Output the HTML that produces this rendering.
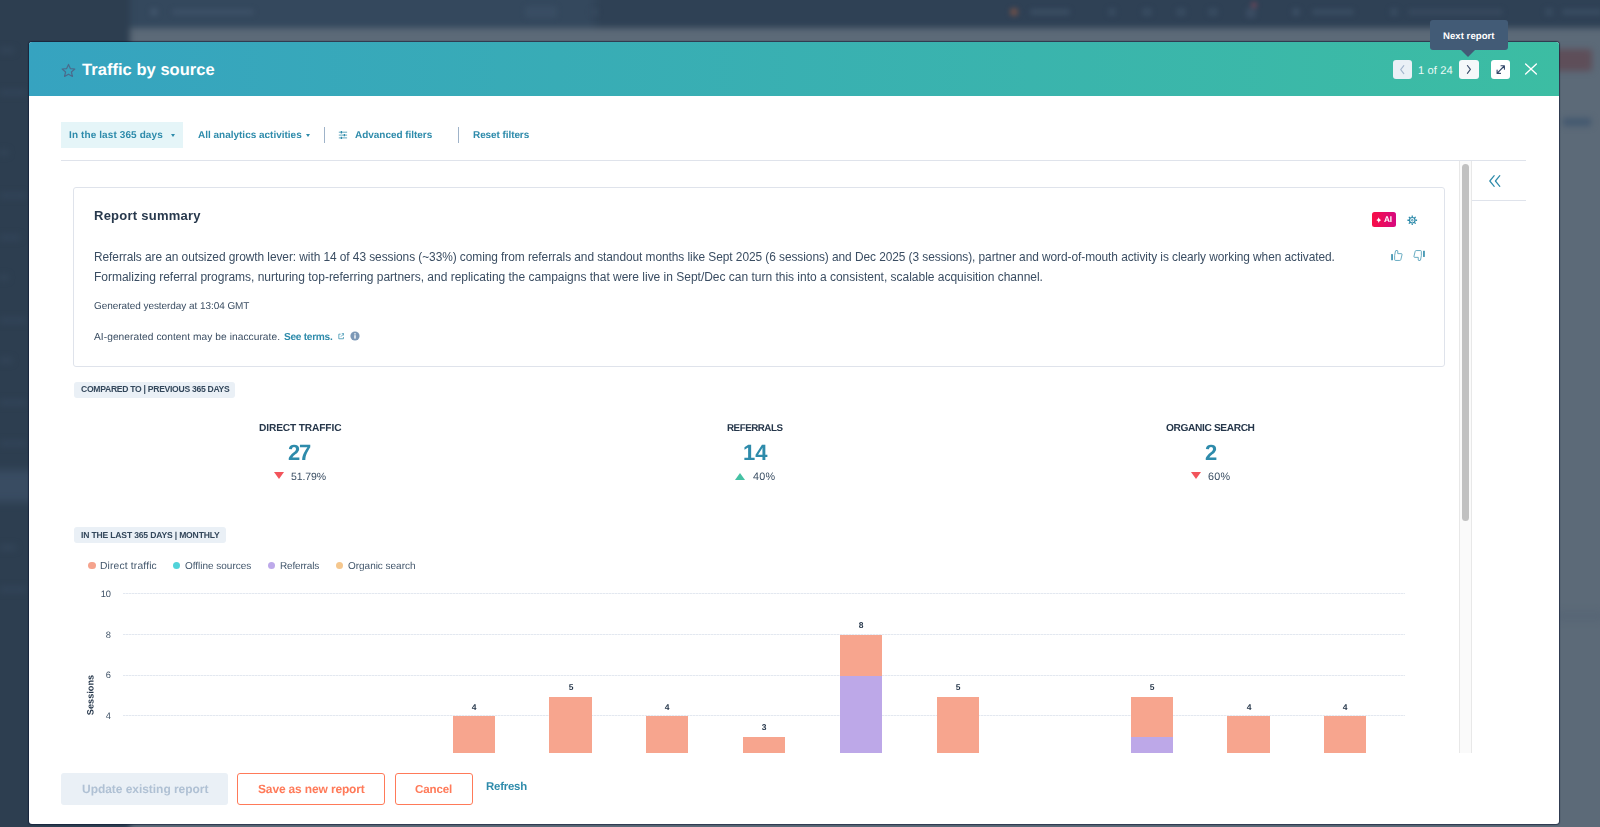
<!DOCTYPE html>
<html>
<head>
<meta charset="utf-8">
<title>Traffic by source</title>
<style>
*{box-sizing:border-box;margin:0;padding:0}
html,body{width:1600px;height:827px;overflow:hidden}
body{font-family:"Liberation Sans",sans-serif;background:#5c6a78;position:relative;color:#33475b}
.abs{position:absolute}
.t{position:absolute;white-space:nowrap;line-height:1;transform:skewX(0.03deg);transform-origin:0 0}
/* blurred page behind */
#bg{position:absolute;left:0;top:0;width:1600px;height:827px;overflow:hidden;background:#5c6a78}
#bg .nav{position:absolute;left:-10px;top:-10px;width:1620px;height:38px;background:linear-gradient(90deg,#34485d 0,#34485d 600px,#2f4155 610px,#2f4155 100%);filter:blur(3px)}
#bg .side{position:absolute;left:-10px;top:-10px;width:140px;height:850px;background:#2d3e50;filter:blur(3px)}
#bg .redbtn{position:absolute;left:1548px;top:49px;width:44px;height:22px;background:#5e4e59;filter:blur(3px);border-radius:3px}
/* modal */
#modal{position:absolute;left:29px;top:42px;width:1530px;height:782.4px;background:#fff;border-radius:3px;overflow:hidden;box-shadow:0 0 1px 1px rgba(12,22,48,.6)}
#hdr{position:absolute;left:0;top:0;width:1530px;height:54px;background:linear-gradient(90deg,#36a3c0 0%,#3cbda3 100%)}
.nbtn{position:absolute;top:18px;width:19px;height:19px;border-radius:3px;background:#fff}
.link{color:#2e8bab;font-weight:bold}
.chip{position:absolute;background:#eaf0f6;border-radius:3px;height:15.5px}
.kl{font-weight:bold;color:#25364a;font-size:9.5px;letter-spacing:.5px}
.kv{font-weight:bold;color:#2e8bab;font-size:22px}
.kp{font-size:11px;color:#3b4f64}
.grid{position:absolute;width:1282px;height:1px;background:repeating-linear-gradient(90deg,#e3e8f0 0,#e3e8f0 2px,#f1f4f8 2px,#f1f4f8 3px)}
.yl{font-size:9.3px;color:#3e5166;text-align:right;width:20px}
.bar{position:absolute;width:42.2px}
.dl{font-size:8.5px;font-weight:bold;color:#25364a;width:20px;text-align:center}
.lg{font-size:10px;color:#42566b}
.dot{position:absolute;width:7.4px;height:7.4px;border-radius:50%;top:519px}
.btn{position:absolute;top:731px;height:31.5px;border-radius:3px;font-size:12px;font-weight:bold}
</style>
</head>
<body>
<div id="bg"><div class="nav"></div><div class="side"></div><div class="abs" style="left:-10px;top:470px;width:45px;height:32px;background:#394c62;filter:blur(4px)"></div><div class="abs" style="left:0;top:0;width:1600px;height:30px;filter:blur(2.5px)"><div class="abs" style="left:150px;top:8px;width:8px;height:8px;background:#3f5369;border-radius:3px"></div><div class="abs" style="left:172px;top:9px;width:82px;height:6px;background:#3c5066;border-radius:3px"></div><div class="abs" style="left:525px;top:6px;width:32px;height:12px;background:#394d63;border-radius:3px"></div><div class="abs" style="left:590px;top:9px;width:8px;height:6px;background:#36495e;border-radius:3px"></div><div class="abs" style="left:1010px;top:8px;width:8px;height:8px;background:#6a4f4a;border-radius:3px"></div><div class="abs" style="left:1030px;top:9px;width:40px;height:6px;background:#3a4d62;border-radius:3px"></div><div class="abs" style="left:1108px;top:8px;width:8px;height:8px;background:#384b60;border-radius:3px"></div><div class="abs" style="left:1142px;top:8px;width:10px;height:8px;background:#384b60;border-radius:3px"></div><div class="abs" style="left:1176px;top:8px;width:10px;height:8px;background:#384b60;border-radius:3px"></div><div class="abs" style="left:1208px;top:8px;width:10px;height:8px;background:#384b60;border-radius:3px"></div><div class="abs" style="left:1246px;top:8px;width:10px;height:10px;background:#3a4c62;border-radius:3px"></div><div class="abs" style="left:1251px;top:2px;width:6px;height:6px;background:#6b4659;border-radius:3px"></div><div class="abs" style="left:1292px;top:8px;width:8px;height:8px;background:#3a4d62;border-radius:3px"></div><div class="abs" style="left:1312px;top:9px;width:42px;height:6px;background:#394c61;border-radius:3px"></div><div class="abs" style="left:1390px;top:8px;width:8px;height:8px;background:#384b60;border-radius:3px"></div><div class="abs" style="left:1408px;top:9px;width:95px;height:6px;background:#37495e;border-radius:3px"></div><div class="abs" style="left:1545px;top:8px;width:8px;height:8px;background:#384b60;border-radius:3px"></div><div class="abs" style="left:1562px;top:9px;width:40px;height:6px;background:#394c61;border-radius:3px"></div></div><div class="abs" style="left:0;top:0;width:29px;height:827px;filter:blur(3px)"><div class="abs" style="left:0px;top:48px;width:14px;height:5px;background:#34465a"></div><div class="abs" style="left:0px;top:90px;width:26px;height:5px;background:#33455a"></div><div class="abs" style="left:0px;top:150px;width:8px;height:5px;background:#34465a"></div><div class="abs" style="left:0px;top:193px;width:26px;height:5px;background:#33455a"></div><div class="abs" style="left:0px;top:235px;width:20px;height:5px;background:#33455a"></div><div class="abs" style="left:0px;top:275px;width:8px;height:5px;background:#34465a"></div><div class="abs" style="left:0px;top:318px;width:26px;height:5px;background:#33455a"></div><div class="abs" style="left:0px;top:358px;width:12px;height:5px;background:#34465a"></div><div class="abs" style="left:0px;top:400px;width:26px;height:5px;background:#33455a"></div><div class="abs" style="left:0px;top:441px;width:26px;height:5px;background:#33455a"></div><div class="abs" style="left:0px;top:545px;width:16px;height:5px;background:#34465a"></div><div class="abs" style="left:0px;top:587px;width:26px;height:5px;background:#33455a"></div></div><div class="redbtn"></div><div class="abs" style="left:1563px;top:118px;width:28px;height:8px;background:#43586f;filter:blur(3px)"></div><div class="abs" style="left:1555px;top:612px;width:50px;height:8px;background:#566575;filter:blur(4px)"></div></div>

<div id="modal"><div id="m" class="abs" style="left:-29px;top:-42px;width:1600px;height:827px;will-change:opacity">
  <div id="hdr" style="left:29px;top:42px"></div>

  <svg class="abs" style="left:60.6px;top:62.7px" width="15" height="15" viewBox="0 0 14 14"><path d="M7 1.3 L8.7 5.2 L12.9 5.6 L9.7 8.4 L10.7 12.6 L7 10.4 L3.3 12.6 L4.3 8.4 L1.1 5.6 L5.3 5.2 Z" fill="none" stroke="#4a6b8c" stroke-width="1.1" stroke-linejoin="round"/></svg>
  <div id="title" class="t" style="font-size:16.5px;font-weight:bold;color:#fff;top:61px;letter-spacing:0.039px;left:81.8px">Traffic by source</div>
  <div class="nbtn" style="left:1393px;top:60px;background:#eaf0f6"><svg class="abs" style="left:0;top:0" width="19" height="19" viewBox="0 0 19 19"><path d="M10.8 5.6 L7.7 9.6 L10.8 13.6" fill="none" stroke="#a3b5cc" stroke-width="1.1" stroke-linecap="round" stroke-linejoin="round"/></svg></div>
  <div id="pg" class="t" style="color:#eafaf6;font-size:11.2px;top:65px;letter-spacing:0.096px;left:1417.8px">1 of 24</div>
  <div class="nbtn" style="left:1459px;top:60px;width:19.6px;background:#f5f8fa"><svg class="abs" style="left:0;top:0" width="19" height="19" viewBox="0 0 19 19"><path d="M8.4 5.5 L11.4 9.4 L8.4 13.3" fill="none" stroke="#3a4d6b" stroke-width="1.1" stroke-linecap="round" stroke-linejoin="round"/></svg></div>
  <div class="nbtn" style="left:1491px;top:60px;background:#fff"><svg class="abs" style="left:0;top:0" width="19" height="19" viewBox="0 0 19 19"><path d="M6.3 13.2 L13.2 6 M10 5.8 H13.4 V9.2 M6.1 10 V13.4 H9.5" fill="none" stroke="#33476b" stroke-width="1.1" stroke-linecap="round" stroke-linejoin="round"/></svg></div>
  <svg class="abs" style="left:1524.2px;top:62.3px" width="14" height="14" viewBox="0 0 14 14"><path d="M1.6 2 L12.4 12 M12.4 2 L1.6 12" fill="none" stroke="#fff" stroke-width="1.35" stroke-linecap="round"/></svg>


  <div class="abs" style="left:61px;top:122px;width:122px;height:26px;background:#e5f5f8"></div>
  <div id="f1" class="t link" style=";font-size:10px;top:130px;letter-spacing:0.107px;left:68.75px">In the last 365 days</div>
  <div class="abs" style="left:171px;top:134px;width:0;height:0;border-left:2.7px solid transparent;border-right:2.7px solid transparent;border-top:3.1px solid #2e8bab"></div>
  <div id="f2" class="t link" style=";font-size:10px;top:130px;letter-spacing:-0.009px;left:197.5px">All analytics activities</div>
  <div class="abs" style="left:305.5px;top:134px;width:0;height:0;border-left:2.7px solid transparent;border-right:2.7px solid transparent;border-top:3.1px solid #2e8bab"></div>
  <div class="abs" style="left:324px;top:127px;width:1px;height:16px;background:#9fb3c9"></div>
  <svg class="abs" style="left:338px;top:129.6px" width="10" height="10" viewBox="0 0 10 10"><path d="M0.8 2.2 H9.1 M0.8 5.1 H9.1 M0.8 7.9 H9.1" stroke="#2e8bab" stroke-width="0.9" fill="none" opacity=".85"/><path d="M3.4 1 V3.4 M6.4 3.9 V6.3 M3.4 6.7 V9.1" stroke="#2e8bab" stroke-width="1.3" fill="none"/></svg>
  <div id="f3" class="t link" style=";font-size:10px;top:130px;letter-spacing:-0.038px;left:354.5px">Advanced filters</div>
  <div class="abs" style="left:458px;top:127px;width:1px;height:16px;background:#9fb3c9"></div>
  <div id="f4" class="t link" style=";font-size:10px;top:130px;letter-spacing:-0.084px;left:473px">Reset filters</div>
  <div class="abs" style="left:61px;top:160px;width:1465px;height:1px;background:#dfe3eb"></div>
  <!-- scrollbar + right panel -->
  <div class="abs" style="left:1459px;top:161px;width:13px;height:592px;background:#fafafa;border-left:1px solid #e8e8e8;border-right:1px solid #e8e8e8"></div>
  <div class="abs" style="left:1462px;top:164px;width:7px;height:357px;background:#c1c1c1;border-radius:4px"></div>
  <svg class="abs" style="left:1488px;top:174px" width="14" height="14" viewBox="0 0 14 14"><path d="M6.2 1.6 L1.8 7 L6.2 12.4 M11.8 1.6 L7.4 7 L11.8 12.4" fill="none" stroke="#2e8bab" stroke-width="1.2" stroke-linecap="round" stroke-linejoin="round"/></svg>
  <div class="abs" style="left:1472px;top:200px;width:54px;height:1px;background:#dfe3eb"></div>


  <div class="abs" style="left:73px;top:187px;width:1372px;height:180px;border:1px solid #dfe3eb;border-radius:3px"></div>
  <div id="rs" class="t" style="font-weight:bold;color:#27384c;font-size:13px;top:209px;letter-spacing:0.245px;left:94.25px">Report summary</div>
  <div id="p1" class="t" style="color:#3a4d62;font-size:11.9px;letter-spacing:-0.056px;left:94px;top:252px">Referrals are an outsized growth lever: with 14 of 43 sessions (~33%) coming from referrals and standout months like Sept 2025 (6 sessions) and Dec 2025 (3 sessions), partner and word-of-mouth activity is clearly working when activated.</div>
  <div id="p2" class="t" style="font-size:12px;color:#3a4d62;top:271px;letter-spacing:-0.012px;left:94px">Formalizing referral programs, nurturing top-referring partners, and replicating the campaigns that were live in Sept/Dec can turn this into a consistent, scalable acquisition channel.</div>
  <div id="gen" class="t" style="color:#3a4d62;font-size:10px;top:301px;letter-spacing:-0.059px;left:94px">Generated yesterday at 13:04 GMT</div>
  <div id="aig" class="t" style="color:#3a4d62;font-size:10.2px;letter-spacing:0.051px;left:94px;top:332px">AI-generated content may be inaccurate.</div>
  <div id="st" class="t link" style="font-size:10.2px;letter-spacing:-0.311px;left:283.75px;top:332px">See terms.</div>
  <svg class="abs" style="left:337.6px;top:333.2px" width="6.6" height="6.6" viewBox="0 0 8 8"><path d="M3.2 1.4 H1 V7 H6.6 V4.8 M4.6 0.8 H7.2 V3.4 M7 1 L3.6 4.4" fill="none" stroke="#2e8bab" stroke-width="0.9"/></svg>
  <svg class="abs" style="left:349.5px;top:331px" width="10" height="10" viewBox="0 0 10 10"><circle cx="5" cy="5" r="4.6" fill="#7c98b6"/><rect x="4.3" y="4.2" width="1.4" height="3.4" fill="#fff"/><rect x="4.3" y="2.2" width="1.4" height="1.3" fill="#fff"/></svg>
  <!-- AI badge -->
  <div class="abs" style="left:1372px;top:212px;width:24px;height:15px;border-radius:2.5px;background:linear-gradient(90deg,#f80e46,#d6097f)"></div>
  <svg class="abs" style="left:1375.8px;top:216.9px" width="5.4" height="6.2" viewBox="0 0 6 6" preserveAspectRatio="none"><path d="M3 0.2 C3.5 1.8 4.2 2.5 5.8 3 C4.2 3.5 3.5 4.2 3 5.8 C2.5 4.2 1.8 3.5 0.2 3 C1.8 2.5 2.5 1.8 3 0.2 Z" fill="#fff"/></svg>
  <div id="ai" class="t" style="font-weight:bold;color:#fff;font-size:8.2px;top:216px;letter-spacing:-0.192px;left:1384px">AI</div>
  <!-- gear -->
  <svg class="abs" style="left:1407.2px;top:214.6px" width="10.5" height="10.5" viewBox="0 0 20 20"><g fill="none" stroke="#2e8bab"><circle cx="10" cy="10" r="5.2" stroke-width="2.2"/><circle cx="10" cy="10" r="1.6" stroke-width="1.6"/><path d="M10 0.8 V4 M10 16 V19.2 M0.8 10 H4 M16 10 H19.2 M3.5 3.5 L5.8 5.8 M14.2 14.2 L16.5 16.5 M3.5 16.5 L5.8 14.2 M14.2 5.8 L16.5 3.5" stroke-width="2.4"/></g></svg>
  <!-- thumbs -->
  <svg class="abs" style="left:1390.8px;top:249.7px" width="12" height="12" viewBox="0 0 24 24"><g fill="none" stroke="#2e8bab" stroke-width="1.6" stroke-linejoin="round" opacity=".9"><rect x="0.3" y="8.2" width="3.6" height="12.4" rx="0.6" fill="#2e8bab" stroke="none"/><path d="M7.3 10.6 L9 1.9 Q9.2 1.1 10 1.1 H12.5 Q13.5 1.1 13.5 2.1 V7.3 H20.4 Q22.5 7.3 22.1 9.3 L19.6 19.4 Q19.2 20.9 17.6 20.9 H9.1 Q7.3 20.9 7.3 19.1 Z"/></g></svg>
  <svg class="abs" style="left:1413.1px;top:249.7px" width="12" height="12" viewBox="0 0 24 24"><g fill="none" stroke="#2e8bab" stroke-width="1.6" stroke-linejoin="round" opacity=".9" transform="rotate(180 12 11)"><rect x="0.3" y="8.2" width="3.6" height="12.4" rx="0.6" fill="#2e8bab" stroke="none"/><path d="M7.3 10.6 L9 1.9 Q9.2 1.1 10 1.1 H12.5 Q13.5 1.1 13.5 2.1 V7.3 H20.4 Q22.5 7.3 22.1 9.3 L19.6 19.4 Q19.2 20.9 17.6 20.9 H9.1 Q7.3 20.9 7.3 19.1 Z"/></g></svg>
  <div class="chip" style="left:73.5px;top:382px;width:161.5px"></div>
  <div id="c1" class="t" style="font-weight:bold;color:#33475b;font-size:8.6px;top:385px;letter-spacing:-0.290px;left:80.5px">COMPARED TO | PREVIOUS 365 DAYS</div>
  <div id="k1l" class="t kl" style="font-size:10.2px;letter-spacing:-0.141px;left:258.75px;top:423px">DIRECT TRAFFIC</div>
  <div id="k1v" class="t kv" style="letter-spacing:-1.246px;left:288px;top:442px">27</div>
  <div class="abs" style="left:273.7px;top:472px;width:0;height:0;border-left:5.5px solid transparent;border-right:5.5px solid transparent;border-top:7.8px solid #f2545b"></div>
  <div id="k1p" class="t kp" style=";font-size:10.5px;top:471px;letter-spacing:-0.126px;left:290.75px">51.79%</div>
  <div id="k2l" class="t kl" style=";font-size:9.8px;top:423px;letter-spacing:-0.485px;left:727px">REFERRALS</div>
  <div id="k2v" class="t kv" style="letter-spacing:0.004px;left:742.5px;top:442px">14</div>
  <div class="abs" style="left:734.5px;top:472.5px;width:0;height:0;border-left:5.5px solid transparent;border-right:5.5px solid transparent;border-bottom:7.8px solid #45c1a4"></div>
  <div id="k2p" class="t kp" style=";font-size:10.8px;top:471px;letter-spacing:0.185px;left:752.5px">40%</div>
  <div id="k3l" class="t kl" style="font-size:10.2px;letter-spacing:-0.383px;left:1165.5px;top:423px">ORGANIC SEARCH</div>
  <div id="k3v" class="t kv" style="letter-spacing:-0.511px;left:1204.5px;top:442px">2</div>
  <div class="abs" style="left:1190.5px;top:472px;width:0;height:0;border-left:5.5px solid transparent;border-right:5.5px solid transparent;border-top:7.8px solid #f2545b"></div>
  <div id="k3p" class="t kp" style=";font-size:10.8px;top:471px;letter-spacing:0.185px;left:1207.5px">60%</div>


  <div class="chip" style="left:73.5px;top:527px;width:152px"></div>
  <div id="c2" class="t" style="font-weight:bold;color:#33475b;font-size:8.6px;top:531px;letter-spacing:-0.184px;left:80.5px">IN THE LAST 365 DAYS | MONTHLY</div>
  <div class="dot" style="left:88.2px;top:561.7px;background:#f5a38d"></div><div id="l1" class="t lg" style="font-size:10.3px;letter-spacing:0.153px;left:100px;top:561px">Direct traffic</div>
  <div class="dot" style="left:173px;top:561.7px;background:#51d3d9"></div><div id="l2" class="t lg" style=";top:561px;letter-spacing:-0.019px;left:185px">Offline sources</div>
  <div class="dot" style="left:268px;top:561.7px;background:#bda9ea"></div><div id="l3" class="t lg" style=";font-size:10px;top:561px;letter-spacing:-0.167px;left:280px">Referrals</div>
  <div class="dot" style="left:335.5px;top:561.7px;background:#f5c78e"></div><div id="l4" class="t lg" style=";top:561px;letter-spacing:-0.024px;left:347.5px">Organic search</div>
  <div id="ys" class="t" style="left:84px;top:689px;width:0;height:0"><div id="ysi" style="position:absolute;white-space:nowrap;font-size:9.2px;font-weight:bold;color:#25364a;transform:translate(-50%,-50%) rotate(-90deg) skewX(0.03deg);left:7px;top:6px">Sessions</div></div>
<!--CS-->
  <div class="grid" style="left:123px;top:592.8px"></div><div class="t yl" style="left:91px;top:590px">10</div>
  <div class="grid" style="left:123px;top:634.2px"></div><div class="t yl" style="left:91px;top:631px">8</div>
  <div class="grid" style="left:123px;top:674.7px"></div><div class="t yl" style="left:91px;top:671px">6</div>
  <div class="grid" style="left:123px;top:715.4px"></div><div class="t yl" style="left:91px;top:712px">4</div>
  <div class="abs" style="left:60px;top:580px;width:1390px;height:173.3px;overflow:hidden"><div class="abs" style="left:-60px;top:-580px;width:1600px;height:827px">
    <div class="bar" style="left:452.5px;top:716.3px;height:83.7px;background:#f7a58e"></div>
    <div class="bar" style="left:549.4px;top:696.7px;height:103.3px;background:#f7a58e"></div>
    <div class="bar" style="left:646.2px;top:716.3px;height:83.7px;background:#f7a58e"></div>
    <div class="bar" style="left:743.1px;top:737.1px;height:62.9px;background:#f7a58e"></div>
    <div class="bar" style="left:840.0px;top:635.0px;height:165.0px;background:#f7a58e"></div>
    <div class="bar" style="left:840.0px;top:675.6px;height:124.4px;background:#bda8e8"></div>
    <div class="bar" style="left:936.8px;top:696.7px;height:103.3px;background:#f7a58e"></div>
    <div class="bar" style="left:1130.5px;top:696.7px;height:103.3px;background:#f7a58e"></div>
    <div class="bar" style="left:1130.5px;top:736.8px;height:63.2px;background:#bda8e8"></div>
    <div class="bar" style="left:1227.4px;top:716.3px;height:83.7px;background:#f7a58e"></div>
    <div class="bar" style="left:1324.2px;top:716.3px;height:83.7px;background:#f7a58e"></div>
  </div></div>
  <div class="t dl" style="left:463.6px;top:702.6px">4</div>
  <div class="t dl" style="left:560.5px;top:683.0px">5</div>
  <div class="t dl" style="left:657.3px;top:702.6px">4</div>
  <div class="t dl" style="left:754.2px;top:723.4px">3</div>
  <div class="t dl" style="left:851.1px;top:621.3px">8</div>
  <div class="t dl" style="left:947.9px;top:683.0px">5</div>
  <div class="t dl" style="left:1141.6px;top:683.0px">5</div>
  <div class="t dl" style="left:1238.5px;top:702.6px">4</div>
  <div class="t dl" style="left:1335.3px;top:702.6px">4</div>
<!--CE-->
  <div class="btn" style="left:61px;top:773px;width:167px;background:#eaf0f6"></div>
  <div id="b1" class="t" style=";font-size:12px;font-weight:bold;color:#b0c1d4;top:783px;letter-spacing:-0.046px;left:81.5px">Update existing report</div>
  <div class="btn" style="left:237px;top:773px;width:148px;border:1px solid #ff7a59;background:#fff"></div>
  <div id="b2" class="t" style=";font-size:12px;font-weight:bold;color:#ff7a59;top:783px;letter-spacing:-0.153px;left:258px">Save as new report</div>
  <div class="btn" style="left:395px;top:773px;width:78px;border:1px solid #ff7a59;background:#fff"></div>
  <div id="b3" class="t" style=";font-weight:bold;color:#ff7a59;font-size:11.6px;top:783px;letter-spacing:-0.167px;left:415px">Cancel</div>
  <div id="b4" class="t link" style="font-size:11.4px;letter-spacing:-0.205px;left:485.6px;top:781px">Refresh</div>

</div></div>
<div class="abs" style="left:0;top:0;width:1600px;height:100px;will-change:opacity">
<div class="abs" style="left:1430px;top:20px;width:78px;height:29.8px;background:#425b76;border-radius:3px"></div>
<div class="abs" style="left:1461.3px;top:49.6px;width:0;height:0;border-left:7.7px solid transparent;border-right:7.7px solid transparent;border-top:7.7px solid #425b76"></div>
<div id="tip" class="t" style="color:#fff;font-weight:bold;font-size:9.6px;top:31px;letter-spacing:0.031px;left:1443px">Next report</div>
</div>
</body>
</html>
